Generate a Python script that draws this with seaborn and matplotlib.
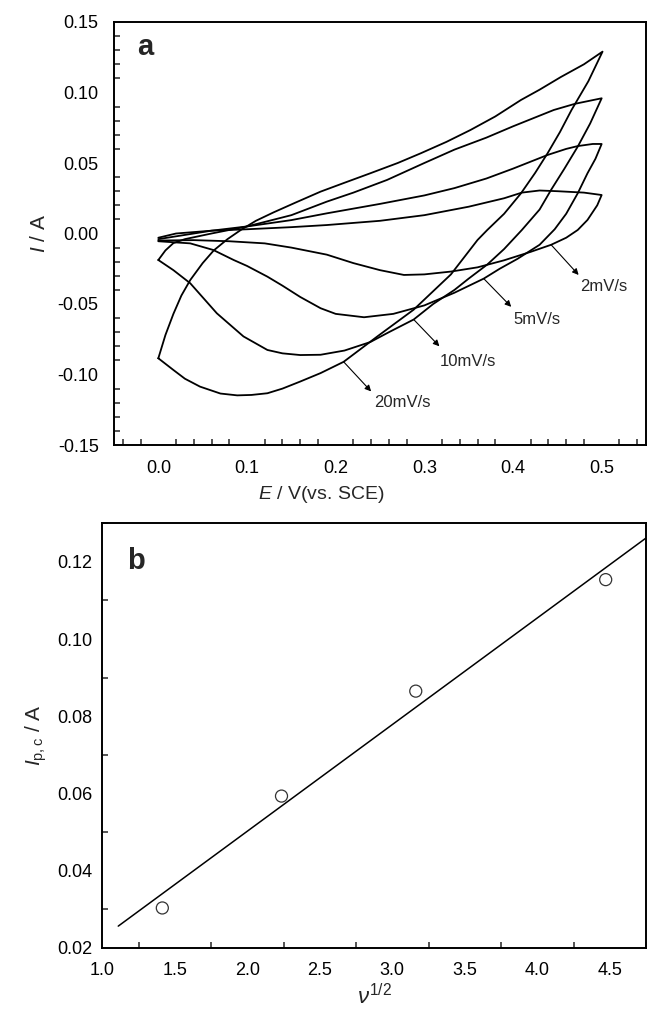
import numpy as np
import pandas as pd
import matplotlib
matplotlib.use("Agg")
import matplotlib.pyplot as plt
from matplotlib.ticker import MultipleLocator, FormatStrFormatter
import seaborn as sns

# ---------------- data: panel a (cyclic voltammograms) ----------------
rates = ["2mV/s", "5mV/s", "10mV/s", "20mV/s"]

E_2 = [0.0, 0.02, 0.06, 0.10, 0.15, 0.19, 0.25, 0.30, 0.35, 0.39, 0.41, 0.43, 0.45, 0.48, 0.50,
       0.495, 0.484, 0.473, 0.46, 0.443, 0.42, 0.39, 0.36, 0.33, 0.30, 0.277, 0.25, 0.22, 0.19,
       0.15, 0.12, 0.08, 0.04, 0.0]
I_2 = [-0.003, 0.0, 0.002, 0.003, 0.0045, 0.006, 0.009, 0.013, 0.019, 0.025, 0.029, 0.0305, 0.030,
       0.029, 0.0273,
       0.020, 0.0096, 0.0025, -0.003, -0.008, -0.013, -0.019, -0.024, -0.027, -0.029, -0.0294,
       -0.026, -0.021, -0.015, -0.010, -0.007, -0.0055, -0.0047, -0.005]

E_5 = [0.0, 0.03, 0.06, 0.10, 0.15, 0.19, 0.25, 0.30, 0.334, 0.37, 0.40, 0.439, 0.46, 0.473, 0.49,
       0.50,
       0.493, 0.484, 0.473, 0.46, 0.447, 0.43, 0.405, 0.385, 0.367, 0.334, 0.30, 0.265, 0.232,
       0.20, 0.183, 0.16, 0.14, 0.123, 0.10, 0.085, 0.062, 0.036, 0.0]
I_5 = [-0.004, -0.001, 0.002, 0.005, 0.0095, 0.0143, 0.021, 0.027, 0.0322, 0.039, 0.046, 0.0557,
       0.060, 0.062, 0.0635, 0.0635,
       0.053, 0.0427, 0.0285, 0.014, 0.003, -0.008, -0.018, -0.025, -0.032, -0.042, -0.051,
       -0.057, -0.0594, -0.057, -0.053, -0.045, -0.037, -0.0306, -0.023, -0.0188, -0.0117,
       -0.007, -0.0055]

E_10 = [0.0, 0.008, 0.017, 0.03, 0.06, 0.10, 0.15, 0.19, 0.22, 0.258, 0.30, 0.334, 0.37, 0.40,
        0.446, 0.47, 0.50,
        0.487, 0.473, 0.458, 0.443, 0.43, 0.41, 0.39, 0.371, 0.35, 0.334, 0.31, 0.288, 0.26,
        0.239, 0.21, 0.183, 0.16, 0.14, 0.123, 0.096, 0.066, 0.036, 0.017, 0.0]
I_10 = [-0.0188, -0.012, -0.0068, -0.004, 0.0, 0.005, 0.013, 0.0226, 0.029, 0.038, 0.050, 0.0595,
        0.068, 0.076, 0.0876, 0.092, 0.0959,
        0.078, 0.0616, 0.046, 0.031, 0.017, 0.0025, -0.011, -0.022, -0.032, -0.040, -0.050,
        -0.061, -0.070, -0.077, -0.083, -0.086, -0.0862, -0.085, -0.0826, -0.073, -0.0566,
        -0.0353, -0.026, -0.0188]

E_20 = [0.0, 0.008, 0.017, 0.026, 0.036, 0.05, 0.0625, 0.078, 0.093, 0.11, 0.13, 0.155, 0.183,
        0.21, 0.239, 0.27, 0.296, 0.325, 0.352, 0.38, 0.409, 0.43, 0.454, 0.48, 0.501,
        0.485, 0.466, 0.453, 0.439, 0.425, 0.409, 0.39, 0.371, 0.36, 0.33, 0.288, 0.247, 0.209,
        0.183, 0.16, 0.14, 0.123, 0.105, 0.089, 0.07, 0.047, 0.03, 0.017, 0.0]
I_20 = [-0.0885, -0.072, -0.057, -0.044, -0.033, -0.021, -0.012, -0.004, 0.0025, 0.009, 0.015,
        0.022, 0.0297, 0.036, 0.0427, 0.050, 0.0569, 0.065, 0.0734, 0.083, 0.0947, 0.102, 0.111,
        0.120, 0.129,
        0.108, 0.0876, 0.072, 0.0569, 0.043, 0.0285, 0.014, 0.0025, -0.0046, -0.029, -0.054,
        -0.073, -0.091, -0.099, -0.105, -0.110, -0.1133, -0.1145, -0.1148, -0.1135, -0.1086,
        -0.103, -0.0968, -0.0885]

curves_E = [E_2, E_5, E_10, E_20]
curves_I = [I_2, I_5, I_10, I_20]

# ---------------- data: panel b (peak current vs sqrt(scan rate)) ----------------
sqrt_v = [1.414, 2.236, 3.162, 4.472]
Ipc = [0.0303, 0.0593, 0.0865, 0.1154]

# ---------------- style ----------------
sns.set_style("white")
plt.rcParams["font.family"] = ["Liberation Sans", "DejaVu Sans"]
plt.rcParams["mathtext.fontset"] = "custom"
plt.rcParams["mathtext.rm"] = "Liberation Sans"
plt.rcParams["mathtext.it"] = "Liberation Sans:italic"
plt.rcParams["mathtext.bf"] = "Liberation Sans:bold"

fig = plt.figure(figsize=(6.47, 10.15), dpi=100)
ax1 = fig.add_axes([114 / 647, 1 - 445 / 1015, 532 / 647, 423 / 1015])
ax2 = fig.add_axes([102.3 / 647, 1 - 947.7 / 1015, 543.7 / 647, 424.4 / 1015])

# ---------------- panel a ----------------
for lab, Es, Is in zip(rates, curves_E, curves_I):
    df = pd.DataFrame({"E": Es, "I": Is})
    sns.lineplot(data=df, x="E", y="I", sort=False, estimator=None, color="black",
                 linewidth=1.3, ax=ax1)

ax1.set_xlim(-0.05, 0.55)
ax1.set_ylim(-0.15, 0.15)
ax1.xaxis.set_major_locator(MultipleLocator(0.1))
ax1.xaxis.set_minor_locator(MultipleLocator(0.02))
ax1.yaxis.set_major_locator(MultipleLocator(0.05))
ax1.yaxis.set_minor_locator(MultipleLocator(0.01))
ax1.xaxis.set_major_formatter(FormatStrFormatter("%.1f"))
ax1.yaxis.set_major_formatter(FormatStrFormatter("%.2f"))
ax1.set_xlabel(r"$E$ / V(vs. SCE)", fontsize=14, labelpad=8)
ax1.xaxis.set_label_coords(0.39, -0.092)
ax1.set_ylabel(r"$I$ / A", fontsize=15, labelpad=6)
ax1.text(0.043, 0.94, "a", transform=ax1.transAxes, fontsize=21, fontweight="bold",
         va="center", ha="left")

arrow_kw = dict(arrowstyle="-|>", color="black", lw=0.8, mutation_scale=9,
                shrinkA=0, shrinkB=0)
# (tail on curve, head, text position)
ann = [
    ("2mV/s", (0.443, -0.008), (0.474, -0.0294), (0.502, -0.0377)),
    ("5mV/s", (0.367, -0.032), (0.398, -0.052), (0.427, -0.061)),
    ("10mV/s", (0.288, -0.061), (0.317, -0.080), (0.349, -0.091)),
    ("20mV/s", (0.209, -0.091), (0.240, -0.112), (0.275, -0.120)),
]
for lab, tail, head, tpos in ann:
    ax1.annotate("", xy=head, xytext=tail, arrowprops=arrow_kw)
    ax1.text(tpos[0], tpos[1], lab, fontsize=12, ha="center", va="center")

# ---------------- panel b ----------------
dfb = pd.DataFrame({"x": sqrt_v, "y": Ipc})
sns.scatterplot(data=dfb, x="x", y="y", marker="o", s=75, facecolor="none",
                edgecolor="#333333", linewidth=0.9, ax=ax2, zorder=3)
slope, icpt = np.polyfit(sqrt_v, Ipc, 1)
xfit = np.array([1.11, 4.8])
sns.lineplot(x=xfit, y=icpt + slope * xfit, color="black", linewidth=1.1, ax=ax2)

ax2.set_xlim(1.0, 4.75)
ax2.set_ylim(0.02, 0.13)
ax2.xaxis.set_major_locator(MultipleLocator(0.5))
ax2.xaxis.set_minor_locator(MultipleLocator(0.25))
ax2.yaxis.set_major_locator(MultipleLocator(0.02))
ax2.yaxis.set_minor_locator(MultipleLocator(0.01))
ax2.xaxis.set_major_formatter(FormatStrFormatter("%.1f"))
ax2.yaxis.set_major_formatter(FormatStrFormatter("%.2f"))
ax2.set_xlabel(r"$\nu^{\mathrm{1/2}}$", fontsize=16, labelpad=4)
ax2.set_ylabel(r"$I_{\mathrm{p,c}}$ / A", fontsize=15, labelpad=6)
ax2.text(0.045, 0.91, "b", transform=ax2.transAxes, fontsize=21, fontweight="bold",
         va="center", ha="left")

for ax, pad_y, pad_x in ((ax1, 11, 11), (ax2, 7, 10)):
    for s in ax.spines.values():
        s.set_linewidth(1.4)
        s.set_color("black")
    ax.tick_params(axis="both", which="major", direction="in", length=10, width=1.3,
                   labelsize=13, colors="black", top=False, right=False)
    ax.tick_params(axis="both", which="minor", direction="in", length=4.5, width=1.1,
                   top=False, right=False)
    ax.tick_params(axis="y", which="major", pad=pad_y)
    ax.tick_params(axis="x", which="major", pad=pad_x)
    ax.tick_params(axis="x", which="minor", bottom=True)
    ax.tick_params(axis="y", which="minor", left=True)

fig.savefig("out.png", dpi=100)
